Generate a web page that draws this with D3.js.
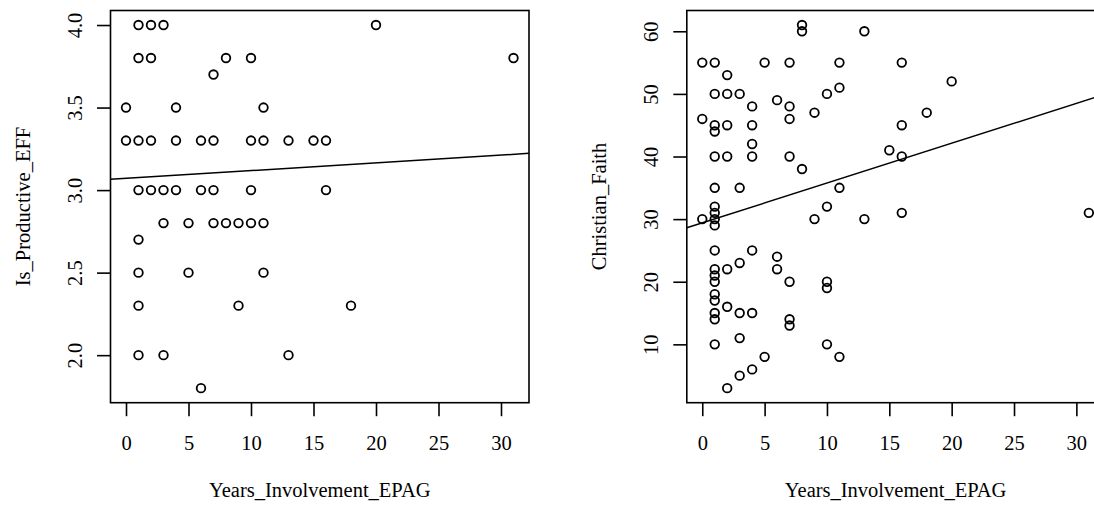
<!DOCTYPE html>
<html>
<head>
<meta charset="utf-8">
<script src="https://cdn.jsdelivr.net/npm/d3@7"></script>
<style>
  html, body { margin: 0; padding: 0; background: #fff; }
  svg { display: block; }
  text { font-family: "Liberation Serif", "Times New Roman", serif; fill: #000; }
</style>
</head>
<body>
<svg id="chart" width="1094" height="506"></svg>
<script>
// ---- Data ----
const xTitle = "Years_Involvement_EPAG";
const xTicks = [0, 5, 10, 15, 20, 25, 30];

// Left panel: Is_Productive_EFF vs Years_Involvement_EPAG
const leftTitle = "Is_Productive_EFF";
const leftYTicks = [2.0, 2.5, 3.0, 3.5, 4.0];
const leftYears = [
  1, 2, 3, 20,
  1, 2, 8, 10, 31,
  7,
  0, 4, 11,
  0, 1, 2, 4, 6, 7, 10, 11, 13, 15, 16,
  1, 2, 3, 4, 6, 7, 10, 16,
  3, 5, 7, 8, 9, 10, 11,
  1,
  1, 5, 11,
  1, 9, 18,
  1, 3, 13,
  6
];
const leftValues = [
  4.0, 4.0, 4.0, 4.0,
  3.8, 3.8, 3.8, 3.8, 3.8,
  3.7,
  3.5, 3.5, 3.5,
  3.3, 3.3, 3.3, 3.3, 3.3, 3.3, 3.3, 3.3, 3.3, 3.3, 3.3,
  3.0, 3.0, 3.0, 3.0, 3.0, 3.0, 3.0, 3.0,
  2.8, 2.8, 2.8, 2.8, 2.8, 2.8, 2.8,
  2.7,
  2.5, 2.5, 2.5,
  2.3, 2.3, 2.3,
  2.0, 2.0, 2.0,
  1.8
];
const leftFit = [3.071, 0.0047]; // intercept, slope

// Right panel: Christian_Faith vs Years_Involvement_EPAG
const rightTitle = "Christian_Faith";
const rightYTicks = [10, 20, 30, 40, 50, 60];
const rightYears = [
  8, 8, 13,
  0, 1, 5, 7, 11, 16,
  2, 20, 11,
  1, 2, 3, 10,
  6, 4, 7, 9, 18,
  0, 7,
  1, 2, 4, 16,
  1, 4, 15,
  1, 2, 4, 7, 16,
  8,
  1, 3, 11,
  1, 10,
  1, 16, 31,
  0, 1, 9, 13,
  1,
  1, 4,
  6, 3,
  1, 2, 6,
  1,
  1, 7, 10,
  10, 1, 1, 2,
  1, 3, 4,
  1, 7,
  7, 3,
  1, 10,
  5, 11,
  4, 3, 2
];
const rightValues = [
  61, 60, 60,
  55, 55, 55, 55, 55, 55,
  53, 52, 51,
  50, 50, 50, 50,
  49, 48, 48, 47, 47,
  46, 46,
  45, 45, 45, 45,
  44, 42, 41,
  40, 40, 40, 40, 40,
  38,
  35, 35, 35,
  32, 32,
  31, 31, 31,
  30, 30, 30, 30,
  29,
  25, 25,
  24, 23,
  22, 22, 22,
  21,
  20, 20, 20,
  19, 18, 17, 16,
  15, 15, 15,
  14, 14,
  13, 11,
  10, 10,
  8, 8,
  6, 5, 3
];
const rightFit = [29.4, 0.636]; // intercept, slope

// ---- Drawing ----
const svg = d3.select("#chart");
const FONT = 20.5;

function panel(cfg) {
  const xExt = d3.extent(cfg.xs), yExt = d3.extent(cfg.ys);
  const xPad = (xExt[1] - xExt[0]) * 0.04, yPad = (yExt[1] - yExt[0]) * 0.04;
  const x = d3.scaleLinear().domain([xExt[0] - xPad, xExt[1] + xPad]).range([cfg.left, cfg.right]);
  const y = d3.scaleLinear().domain([yExt[0] - yPad, yExt[1] + yPad]).range([cfg.bottom, cfg.top]);
  const g = svg.append("g");
  const clipId = "clip" + cfg.id;
  svg.append("clipPath").attr("id", clipId).append("rect")
    .attr("x", cfg.left).attr("y", cfg.top)
    .attr("width", cfg.right - cfg.left).attr("height", cfg.bottom - cfg.top);

  // points
  g.append("g").selectAll("circle").data(cfg.xs.map((v, i) => [v, cfg.ys[i]]))
    .join("circle")
    .attr("cx", d => x(d[0])).attr("cy", d => y(d[1]))
    .attr("r", 4.3).attr("fill", "none").attr("stroke", "#000").attr("stroke-width", 1.8);

  // fitted line
  const xd = x.domain();
  g.append("line").attr("clip-path", `url(#${clipId})`)
    .attr("x1", x(xd[0])).attr("y1", y(cfg.fit[0] + cfg.fit[1] * xd[0]))
    .attr("x2", x(xd[1])).attr("y2", y(cfg.fit[0] + cfg.fit[1] * xd[1]))
    .attr("stroke", "#000").attr("stroke-width", 1.5);

  // box
  g.append("rect").attr("x", cfg.left).attr("y", cfg.top)
    .attr("width", cfg.right - cfg.left).attr("height", cfg.bottom - cfg.top)
    .attr("fill", "none").attr("stroke", "#000").attr("stroke-width", 1.6);

  // x axis
  const xa = g.append("g").attr("transform", `translate(0,${cfg.bottom})`)
    .call(d3.axisBottom(x).tickValues(cfg.xTicks).tickSize(13.5).tickPadding(0).tickFormat(d3.format("d")));
  xa.select(".domain").remove();
  xa.selectAll("line").attr("stroke", "#000").attr("stroke-width", 1.6);
  xa.selectAll("text").attr("font-size", FONT).attr("dy", null).attr("y", 47)
    .attr("font-family", '"Liberation Serif", serif');

  // y axis
  const ya = g.append("g").attr("transform", `translate(${cfg.left},0)`)
    .call(d3.axisLeft(y).tickValues(cfg.yTicks).tickSize(13.5).tickFormat(cfg.yFormat));
  ya.select(".domain").remove();
  ya.selectAll("line").attr("stroke", "#000").attr("stroke-width", 1.6);
  ya.selectAll("text").attr("font-size", FONT).attr("x", null).attr("dy", null)
    .attr("text-anchor", "middle")
    .attr("font-family", '"Liberation Serif", serif')
    .attr("transform", `translate(${-29},0) rotate(-90)`);

  // titles
  g.append("text").attr("x", (cfg.left + cfg.right) / 2).attr("y", 497)
    .attr("text-anchor", "middle").attr("font-size", FONT).text(cfg.xLabel);
  g.append("text").attr("text-anchor", "middle").attr("font-size", FONT)
    .attr("transform", `translate(${cfg.left - 80.5},206.5) rotate(-90)`).text(cfg.yLabel);
}

panel({ id: "L", xs: leftYears, ys: leftValues, fit: leftFit,
  left: 110.5, right: 529, top: 10.5, bottom: 402.7,
  xTicks, yTicks: leftYTicks, yFormat: d3.format(".1f"), xLabel: xTitle, yLabel: leftTitle });

panel({ id: "R", xs: rightYears, ys: rightValues, fit: rightFit,
  left: 686.8, right: 1104.3, top: 10.5, bottom: 402.7,
  xTicks, yTicks: rightYTicks, yFormat: d3.format("d"), xLabel: xTitle, yLabel: rightTitle });
</script>
</body>
</html>
